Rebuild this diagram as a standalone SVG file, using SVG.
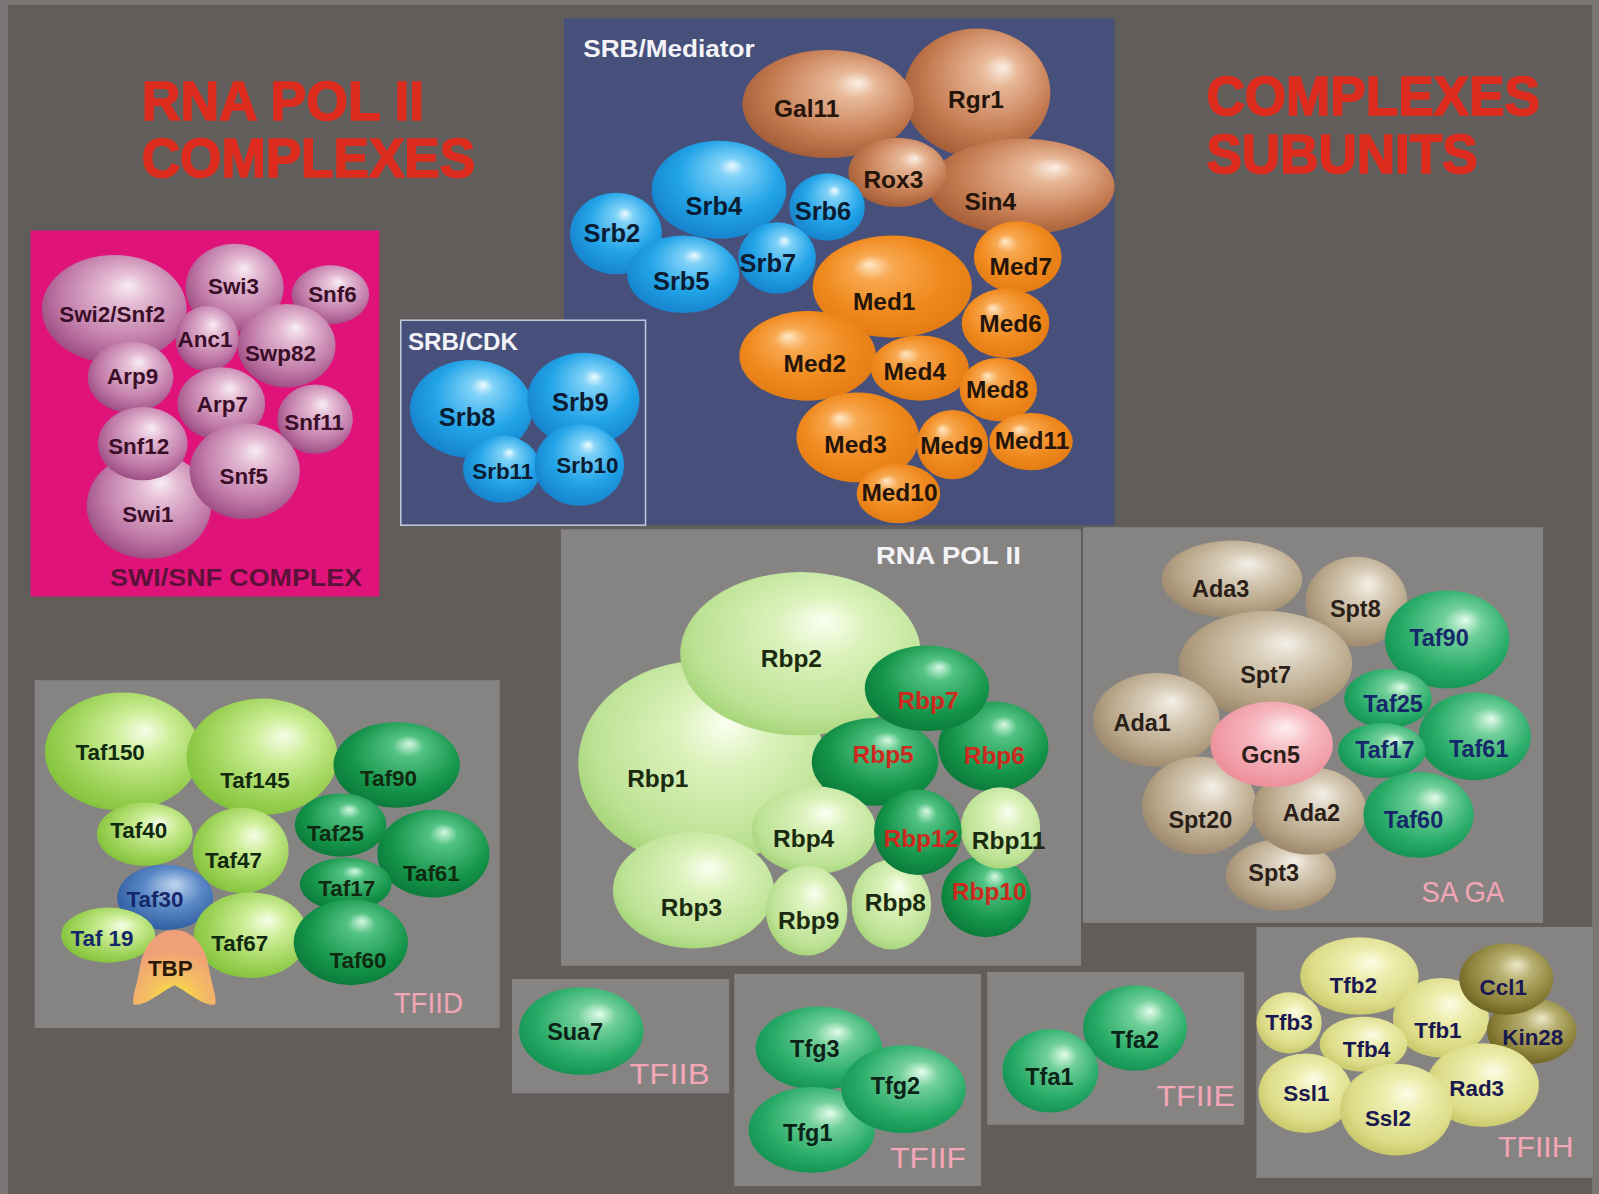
<svg xmlns="http://www.w3.org/2000/svg" width="1599" height="1194" viewBox="0 0 1599 1194">
<defs>
<radialGradient id="gPink" cx="0.55" cy="0.42" fx="0.6" fy="0.28" r="0.62"><stop offset="0" stop-color="#f8eef4"/><stop offset="0.22" stop-color="#e6bfd6"/><stop offset="0.7" stop-color="#c07aa8"/><stop offset="1" stop-color="#98487e"/></radialGradient>
<radialGradient id="gBlue" cx="0.55" cy="0.42" fx="0.6" fy="0.25" r="0.62"><stop offset="0" stop-color="#eefaff"/><stop offset="0.15" stop-color="#80d2f8"/><stop offset="0.6" stop-color="#22a4e8"/><stop offset="1" stop-color="#1580cc"/></radialGradient>
<radialGradient id="gBrown" cx="0.55" cy="0.42" fx="0.68" fy="0.3" r="0.62"><stop offset="0" stop-color="#fcf0e6"/><stop offset="0.2" stop-color="#e8b898"/><stop offset="0.7" stop-color="#c47a50"/><stop offset="1" stop-color="#a05a34"/></radialGradient>
<radialGradient id="gOrange" cx="0.5" cy="0.45" fx="0.35" fy="0.28" r="0.62"><stop offset="0" stop-color="#ffe8c8"/><stop offset="0.2" stop-color="#f8a850"/><stop offset="0.6" stop-color="#f08a1e"/><stop offset="1" stop-color="#e07810"/></radialGradient>
<radialGradient id="gLime" cx="0.55" cy="0.42" fx="0.6" fy="0.3" r="0.62"><stop offset="0" stop-color="#fbfff2"/><stop offset="0.3" stop-color="#dcf2bc"/><stop offset="0.8" stop-color="#bce294"/><stop offset="1" stop-color="#a2d274"/></radialGradient>
<radialGradient id="gDark" cx="0.55" cy="0.42" fx="0.6" fy="0.25" r="0.62"><stop offset="0" stop-color="#d6f8e4"/><stop offset="0.2" stop-color="#52c282"/><stop offset="0.7" stop-color="#14944a"/><stop offset="1" stop-color="#0a7838"/></radialGradient>
<radialGradient id="gYg" cx="0.58" cy="0.42" fx="0.65" fy="0.32" r="0.62"><stop offset="0" stop-color="#f6fde8"/><stop offset="0.3" stop-color="#cdee98"/><stop offset="0.75" stop-color="#9cd256"/><stop offset="1" stop-color="#82c23a"/></radialGradient>
<radialGradient id="gTaf30" cx="0.55" cy="0.42" fx="0.6" fy="0.3" r="0.62"><stop offset="0" stop-color="#c0d6f0"/><stop offset="0.5" stop-color="#5a88c6"/><stop offset="1" stop-color="#2c5a9e"/></radialGradient>
<radialGradient id="gTan" cx="0.55" cy="0.42" fx="0.62" fy="0.3" r="0.62"><stop offset="0" stop-color="#f4f0e8"/><stop offset="0.3" stop-color="#d8ccb8"/><stop offset="0.75" stop-color="#b4a284"/><stop offset="1" stop-color="#98846a"/></radialGradient>
<radialGradient id="gGcn" cx="0.55" cy="0.42" fx="0.62" fy="0.3" r="0.62"><stop offset="0" stop-color="#fdeef0"/><stop offset="0.4" stop-color="#f6b8c0"/><stop offset="1" stop-color="#ec8c98"/></radialGradient>
<radialGradient id="gMid" cx="0.55" cy="0.42" fx="0.65" fy="0.3" r="0.62"><stop offset="0" stop-color="#e4fcec"/><stop offset="0.25" stop-color="#72d09a"/><stop offset="0.7" stop-color="#28ac68"/><stop offset="1" stop-color="#129050"/></radialGradient>
<radialGradient id="gYel" cx="0.55" cy="0.42" fx="0.6" fy="0.32" r="0.62"><stop offset="0" stop-color="#fcfce8"/><stop offset="0.3" stop-color="#eeeeb0"/><stop offset="0.75" stop-color="#dcdc88"/><stop offset="1" stop-color="#c6c466"/></radialGradient>
<radialGradient id="gOlive" cx="0.55" cy="0.42" fx="0.62" fy="0.3" r="0.62"><stop offset="0" stop-color="#ece8c8"/><stop offset="0.3" stop-color="#b8b070"/><stop offset="0.75" stop-color="#8a8038"/><stop offset="1" stop-color="#6a6020"/></radialGradient>
<radialGradient id="gTbp" cx="0.5" cy="0.95" r="0.7"><stop offset="0" stop-color="#f8ee30"/><stop offset="0.45" stop-color="#f4c060"/><stop offset="1" stop-color="#f0a078"/></radialGradient>
<filter id="soft" x="-5%" y="-20%" width="110%" height="140%"><feGaussianBlur stdDeviation="0.7"/></filter>
<style>
.pink{fill:url(#gPink)} .blue{fill:url(#gBlue)} .brown{fill:url(#gBrown)} .orange{fill:url(#gOrange)}
.lime{fill:url(#gLime)} .dark{fill:url(#gDark)} .yg{fill:url(#gYg)} .taf30{fill:url(#gTaf30)}
.tan{fill:url(#gTan)} .gcn{fill:url(#gGcn)} .mid{fill:url(#gMid)} .yel{fill:url(#gYel)} .olive{fill:url(#gOlive)}
.panel{fill:#868483}
.navy{fill:#46507a}
text{font-family:"Liberation Sans",Arial,sans-serif;font-weight:bold;text-anchor:middle}
.title{fill:#dc2a1c;stroke:#dc2a1c;stroke-width:1.6;font-size:55px;text-anchor:start}
.hdr{fill:#f4f4f8;font-size:23px;text-anchor:start}
.cx{fill:#f2a6b6;font-size:29px;font-weight:normal;text-anchor:start}
.tp{fill:#3a0e28;font-size:22px}
.tb{fill:#0b1c33;font-size:25px}
.to{fill:#24140a;font-size:24px}
.tg{fill:#1a2a0e;font-size:24px}
.tr{fill:#cc2a1e;font-size:24px}
.tt{fill:#2a2018;font-size:23px}
.tn{fill:#15286a;font-size:23px}
.td{fill:#102a10;font-size:22px}
.tf{fill:#0c2418;font-size:23px}
.th{fill:#1a1850;font-size:22px}
</style>
</defs>
<rect x="0" y="0" width="1599" height="1194" fill="#7a7675"/>
<rect x="8" y="5" width="1584" height="1189" fill="#615d5b"/>
<g transform="scale(1.0198)">
<g id="titles" filter="url(#soft)">
<text class="title" x="139" y="118" textLength="277" lengthAdjust="spacingAndGlyphs">RNA POL II</text>
<text class="title" x="139" y="174" textLength="327" lengthAdjust="spacingAndGlyphs">COMPLEXES</text>
<text class="title" x="1183" y="113" textLength="327" lengthAdjust="spacingAndGlyphs">COMPLEXES</text>
<text class="title" x="1183" y="170" textLength="266" lengthAdjust="spacingAndGlyphs">SUBUNITS</text>
</g>
<g id="connectors"/>
<g id="swisnf">
<rect x="30" y="226" width="342" height="359" fill="#e0137b"/>
<text x="108" y="575" textLength="247" lengthAdjust="spacingAndGlyphs" style="fill:#5c1238;font-size:24px;text-anchor:start">SWI/SNF COMPLEX</text>
<g id="n-Snf6"><ellipse class="pink" cx="324" cy="289" rx="38" ry="29"/><text class="tp" x="326" y="296">Snf6</text></g>
<g id="n-Swi3"><ellipse class="pink" cx="230" cy="282" rx="48" ry="43"/><text class="tp" x="229" y="288">Swi3</text></g>
<g id="n-Swi2"><ellipse class="pink" cx="112" cy="303" rx="71" ry="53"/><text class="tp" x="110" y="316">Swi2/Snf2</text></g>
<g id="n-Swp82"><ellipse class="pink" cx="281" cy="339" rx="48" ry="41"/><text class="tp" x="275" y="354">Swp82</text></g>
<g id="n-Anc1"><ellipse class="pink" cx="203" cy="332" rx="31" ry="32"/><text class="tp" x="201" y="340">Anc1</text></g>
<g id="n-Arp9"><ellipse class="pink" cx="128" cy="370" rx="42" ry="35"/><text class="tp" x="130" y="377">Arp9</text></g>
<g id="n-Snf11"><ellipse class="pink" cx="309" cy="411" rx="37" ry="34"/><text class="tp" x="308" y="422">Snf11</text></g>
<g id="n-Arp7"><ellipse class="pink" cx="217" cy="396" rx="43" ry="36"/><text class="tp" x="218" y="404">Arp7</text></g>
<g id="n-Swi1"><ellipse class="pink" cx="146" cy="496" rx="61" ry="52"/><text class="tp" x="145" y="512">Swi1</text></g>
<g id="n-Snf12"><ellipse class="pink" cx="140" cy="435" rx="44" ry="36"/><text class="tp" x="136" y="445">Snf12</text></g>
<g id="n-Snf5"><ellipse class="pink" cx="240" cy="462" rx="54" ry="47"/><text class="tp" x="239" y="475">Snf5</text></g>
</g>
<g id="mediator">
<rect x="553" y="18" width="540" height="497" class="navy"/>
<text class="hdr" x="572" y="56" textLength="168" lengthAdjust="spacingAndGlyphs">SRB/Mediator</text>
<g id="n-Rgr1"><ellipse class="brown" cx="958" cy="91" rx="72" ry="63"/><text class="to" x="957" y="106">Rgr1</text></g>
<g id="n-Gal11"><ellipse class="brown" cx="812" cy="102" rx="84" ry="53"/><text class="to" x="791" y="115">Gal11</text></g>
<g id="n-Sin4"><ellipse class="brown" cx="1002" cy="183" rx="91" ry="47"/><text class="to" x="971" y="206">Sin4</text></g>
<g id="n-Rox3"><ellipse class="brown" cx="880" cy="169" rx="48" ry="34"/><text class="to" x="876" y="184">Rox3</text></g>
<g id="n-Srb4"><ellipse class="blue" cx="705" cy="186" rx="66" ry="48"/><text class="tb" x="700" y="211">Srb4</text></g>
<g id="n-Srb2"><ellipse class="blue" cx="604" cy="229" rx="45" ry="40"/><text class="tb" x="600" y="237">Srb2</text></g>
<g id="n-Srb6"><ellipse class="blue" cx="811" cy="203" rx="37" ry="33"/><text class="tb" x="807" y="216">Srb6</text></g>
<g id="n-Srb5"><ellipse class="blue" cx="670" cy="269" rx="55" ry="38"/><text class="tb" x="668" y="284">Srb5</text></g>
<g id="n-Srb7"><ellipse class="blue" cx="762" cy="253" rx="38" ry="35"/><text class="tb" x="753" y="267">Srb7</text></g>
<g id="n-Med1"><ellipse class="orange" cx="875" cy="281" rx="78" ry="50"/><text class="to" x="867" y="304">Med1</text></g>
<g id="n-Med7"><ellipse class="orange" cx="998" cy="252" rx="43" ry="35"/><text class="to" x="1001" y="270">Med7</text></g>
<g id="n-Med6"><ellipse class="orange" cx="986" cy="317" rx="43" ry="34"/><text class="to" x="991" y="326">Med6</text></g>
<g id="n-Med2"><ellipse class="orange" cx="792" cy="349" rx="67" ry="44"/><text class="to" x="799" y="365">Med2</text></g>
<g id="n-Med4"><ellipse class="orange" cx="902" cy="361" rx="48" ry="32"/><text class="to" x="897" y="373">Med4</text></g>
<g id="n-Med8"><ellipse class="orange" cx="979" cy="382" rx="38" ry="31"/><text class="to" x="978" y="390">Med8</text></g>
<g id="n-Med3"><ellipse class="orange" cx="841" cy="429" rx="60" ry="44"/><text class="to" x="839" y="444">Med3</text></g>
<g id="n-Med9"><ellipse class="orange" cx="934" cy="436" rx="35" ry="34"/><text class="to" x="933" y="445">Med9</text></g>
<g id="n-Med11"><ellipse class="orange" cx="1011" cy="433" rx="41" ry="28"/><text class="to" x="1012" y="440">Med11</text></g>
<g id="n-Med10"><ellipse class="orange" cx="881" cy="484" rx="41" ry="29"/><text class="to" x="882" y="491">Med10</text></g>
</g>
<g id="srbcdk">
<rect x="393" y="314" width="240" height="201" class="navy" stroke="#c4c8dc" stroke-width="1.5"/>
<text class="hdr" x="400" y="343" textLength="108" lengthAdjust="spacingAndGlyphs">SRB/CDK</text>
<g id="n-Srb8"><ellipse class="blue" cx="462" cy="401" rx="60" ry="48"/><text class="tb" x="458" y="418">Srb8</text></g>
<g id="n-Srb9"><ellipse class="blue" cx="572" cy="392" rx="55" ry="46"/><text class="tb" x="569" y="403">Srb9</text></g>
<g id="n-Srb11"><ellipse class="blue" cx="492" cy="460" rx="38" ry="33"/><text class="tb" x="493" y="470" style="font-size:22px">Srb11</text></g>
<g id="n-Srb10"><ellipse class="blue" cx="568" cy="456" rx="44" ry="40"/><text class="tb" x="576" y="464" style="font-size:22px">Srb10</text></g>
</g>
<g id="rnapol">
<rect x="550" y="519" width="510" height="428" class="panel"/>
<text class="hdr" x="859" y="553" textLength="142" lengthAdjust="spacingAndGlyphs">RNA POL II</text>
<g id="n-Rbp1"><ellipse class="lime" cx="688" cy="748" rx="121" ry="100"/><text class="tg" x="645" y="772">Rbp1</text></g>
<g id="n-Rbp2"><ellipse class="lime" cx="785" cy="641" rx="118" ry="80"/><text class="tg" x="776" y="654">Rbp2</text></g>
<g id="n-Rbp5"><ellipse class="dark" cx="858" cy="747" rx="62" ry="43"/><text class="tr" x="866" y="748">Rbp5</text></g>
<g id="n-Rbp6"><ellipse class="dark" cx="974" cy="732" rx="54" ry="44"/><text class="tr" x="975" y="749">Rbp6</text></g>
<g id="n-Rbp7"><ellipse class="dark" cx="909" cy="675" rx="61" ry="42"/><text class="tr" x="910" y="695">Rbp7</text></g>
<g id="n-Rbp4"><ellipse class="lime" cx="798" cy="814" rx="61" ry="43"/><text class="tg" x="788" y="831">Rbp4</text></g>
<g id="n-Rbp3"><ellipse class="lime" cx="680" cy="873" rx="79" ry="57"/><text class="tg" x="678" y="898">Rbp3</text></g>
<g id="n-Rbp9"><ellipse class="lime" cx="791" cy="893" rx="40" ry="44"/><text class="tg" x="793" y="911">Rbp9</text></g>
<g id="n-Rbp8"><ellipse class="lime" cx="874" cy="887" rx="39" ry="44"/><text class="tg" x="878" y="893">Rbp8</text></g>
<g id="n-Rbp10"><ellipse class="dark" cx="967" cy="879" rx="44" ry="40"/><text class="tr" x="970" y="883">Rbp10</text></g>
<g id="n-Rbp11"><ellipse class="lime" cx="981" cy="812" rx="39" ry="40"/><text class="tg" x="989" y="833">Rbp11</text></g>
<g id="n-Rbp12"><ellipse class="dark" cx="900" cy="816" rx="43" ry="42"/><text class="tr" x="903" y="831">Rbp12</text></g>
</g>
<g id="saga">
<rect x="1062" y="517" width="451" height="388" class="panel"/>
<text class="cx" x="1394" y="884" textLength="81" lengthAdjust="spacingAndGlyphs">SA GA</text>
<g id="n-Ada3"><ellipse class="tan" cx="1208" cy="568" rx="69" ry="38"/><text class="tt" x="1197" y="585">Ada3</text></g>
<g id="n-Spt8"><ellipse class="tan" cx="1330" cy="590" rx="50" ry="44"/><text class="tt" x="1329" y="605">Spt8</text></g>
<g id="n-Spt7"><ellipse class="tan" cx="1241" cy="651" rx="85" ry="52"/><text class="tt" x="1241" y="670">Spt7</text></g>
<g id="n-Ada1"><ellipse class="tan" cx="1134" cy="706" rx="62" ry="46"/><text class="tt" x="1120" y="717">Ada1</text></g>
<g id="n-Spt20"><ellipse class="tan" cx="1176" cy="790" rx="56" ry="48"/><text class="tt" x="1177" y="812">Spt20</text></g>
<g id="n-Spt3"><ellipse class="tan" cx="1256" cy="858" rx="54" ry="35"/><text class="tt" x="1249" y="864">Spt3</text></g>
<g id="n-Ada2"><ellipse class="tan" cx="1284" cy="795" rx="56" ry="43"/><text class="tt" x="1286" y="805">Ada2</text></g>
<g id="n-Gcn5"><ellipse class="gcn" cx="1247" cy="730" rx="60" ry="42"/><text class="tt" x="1246" y="748">Gcn5</text></g>
<g id="n-sTaf90"><ellipse class="mid" cx="1419" cy="627" rx="61" ry="48"/><text class="tn" x="1411" y="633">Taf90</text></g>
<g id="n-sTaf61"><ellipse class="mid" cx="1446" cy="722" rx="55" ry="43"/><text class="tn" x="1450" y="742">Taf61</text></g>
<g id="n-sTaf25"><ellipse class="mid" cx="1361" cy="685" rx="43" ry="29"/><text class="tn" x="1366" y="698">Taf25</text></g>
<g id="n-sTaf17"><ellipse class="mid" cx="1355" cy="736" rx="43" ry="27"/><text class="tn" x="1358" y="743">Taf17</text></g>
<g id="n-sTaf60"><ellipse class="mid" cx="1391" cy="799" rx="54" ry="42"/><text class="tn" x="1386" y="812">Taf60</text></g>
</g>
<g id="tfiid">
<rect x="34" y="667" width="456" height="341" class="panel"/>
<text class="cx" x="386" y="993" textLength="68" lengthAdjust="spacingAndGlyphs">TFIID</text>
<g id="n-Taf150"><ellipse class="yg" cx="120" cy="737" rx="76" ry="58"/><text class="td" x="108" y="745">Taf150</text></g>
<g id="n-Taf145"><ellipse class="yg" cx="257" cy="742" rx="74" ry="57"/><text class="td" x="250" y="773">Taf145</text></g>
<g id="n-Taf90"><ellipse class="dark" cx="389" cy="750" rx="62" ry="42"/><text class="td" x="381" y="771">Taf90</text></g>
<g id="n-Taf40"><ellipse class="yg" cx="142" cy="818" rx="47" ry="31"/><text class="td" x="136" y="822">Taf40</text></g>
<g id="n-Taf47"><ellipse class="yg" cx="236" cy="834" rx="47" ry="42"/><text class="td" x="229" y="851">Taf47</text></g>
<g id="n-Taf25"><ellipse class="dark" cx="334" cy="809" rx="45" ry="31"/><text class="td" x="329" y="825">Taf25</text></g>
<g id="n-Taf61"><ellipse class="dark" cx="425" cy="837" rx="55" ry="43"/><text class="td" x="423" y="864">Taf61</text></g>
<g id="n-Taf17"><ellipse class="dark" cx="339" cy="867" rx="45" ry="26"/><text class="td" x="340" y="879">Taf17</text></g>
<g id="n-Taf30"><ellipse class="taf30" cx="162" cy="880" rx="47" ry="32"/><text class="td" x="152" y="889" style="fill:#15286a">Taf30</text></g>
<g id="n-Taf19"><ellipse class="yg" cx="106" cy="917" rx="46" ry="27"/><text class="td" x="100" y="928" style="fill:#15286a">Taf 19</text></g>
<g id="n-Taf67"><ellipse class="yg" cx="246" cy="917" rx="56" ry="42"/><text class="td" x="235" y="933">Taf67</text></g>
<g id="n-Taf60"><ellipse class="dark" cx="344" cy="924" rx="56" ry="42"/><text class="td" x="351" y="949">Taf60</text></g>
<g id="n-TBP"><path d="M171,912 C191,912 202,930 205,950 C208,968 213,978 211,985 C200,987 185,973 171,966 C157,973 142,987 131,985 C129,978 134,968 137,950 C140,930 151,912 171,912 Z" fill="url(#gTbp)"/><text class="td" x="167" y="957" style="fill:#2a1808">TBP</text></g>
</g>
<g id="tfiib">
<rect x="502" y="960" width="213" height="112" class="panel"/>
<text class="cx" x="617" y="1063" textLength="79" lengthAdjust="spacingAndGlyphs">TFIIB</text>
<g id="n-Sua7"><ellipse class="mid" cx="570" cy="1011" rx="61" ry="43"/><text class="tf" x="564" y="1020">Sua7</text></g>
</g>
<g id="tfiif">
<rect x="720" y="955" width="242" height="208" class="panel"/>
<text class="cx" x="873" y="1145" textLength="74" lengthAdjust="spacingAndGlyphs">TFIIF</text>
<g id="n-Tfg3"><ellipse class="mid" cx="803" cy="1028" rx="62" ry="41"/><text class="tf" x="799" y="1036">Tfg3</text></g>
<g id="n-Tfg1"><ellipse class="mid" cx="796" cy="1108" rx="62" ry="42"/><text class="tf" x="792" y="1119">Tfg1</text></g>
<g id="n-Tfg2"><ellipse class="mid" cx="886" cy="1068" rx="61" ry="43"/><text class="tf" x="878" y="1073">Tfg2</text></g>
</g>
<g id="tfiie">
<rect x="968" y="953" width="252" height="150" class="panel"/>
<text class="cx" x="1134" y="1085" textLength="77" lengthAdjust="spacingAndGlyphs">TFIIE</text>
<g id="n-Tfa2"><ellipse class="mid" cx="1113" cy="1008" rx="51" ry="42"/><text class="tf" x="1113" y="1028">Tfa2</text></g>
<g id="n-Tfa1"><ellipse class="mid" cx="1030" cy="1050" rx="47" ry="41"/><text class="tf" x="1029" y="1064">Tfa1</text></g>
</g>
<g id="tfiih">
<rect x="1232" y="909" width="330" height="246" class="panel"/>
<text class="cx" x="1469" y="1135" textLength="74" lengthAdjust="spacingAndGlyphs">TFIIH</text>
<g id="n-Tfb2"><ellipse class="yel" cx="1333" cy="957" rx="58" ry="38"/><text class="th" x="1327" y="974">Tfb2</text></g>
<g id="n-Tfb3"><ellipse class="yel" cx="1264" cy="1003" rx="32" ry="30"/><text class="th" x="1264" y="1010">Tfb3</text></g>
<g id="n-Tfb1"><ellipse class="yel" cx="1413" cy="998" rx="47" ry="39"/><text class="th" x="1410" y="1018">Tfb1</text></g>
<g id="n-Kin28"><ellipse class="olive" cx="1502" cy="1011" rx="44" ry="32"/><text class="th" x="1503" y="1025">Kin28</text></g>
<g id="n-Ccl1"><ellipse class="olive" cx="1477" cy="960" rx="46" ry="35"/><text class="th" x="1474" y="976">Ccl1</text></g>
<g id="n-Tfb4"><ellipse class="yel" cx="1337" cy="1024" rx="43" ry="27"/><text class="th" x="1340" y="1036">Tfb4</text></g>
<g id="n-Rad3"><ellipse class="yel" cx="1454" cy="1064" rx="55" ry="41"/><text class="th" x="1448" y="1075">Rad3</text></g>
<g id="n-Ssl1"><ellipse class="yel" cx="1280" cy="1072" rx="46" ry="39"/><text class="th" x="1281" y="1080">Ssl1</text></g>
<g id="n-Ssl2"><ellipse class="yel" cx="1369" cy="1088" rx="55" ry="45"/><text class="th" x="1361" y="1104">Ssl2</text></g>
</g>
</g>
</svg>
